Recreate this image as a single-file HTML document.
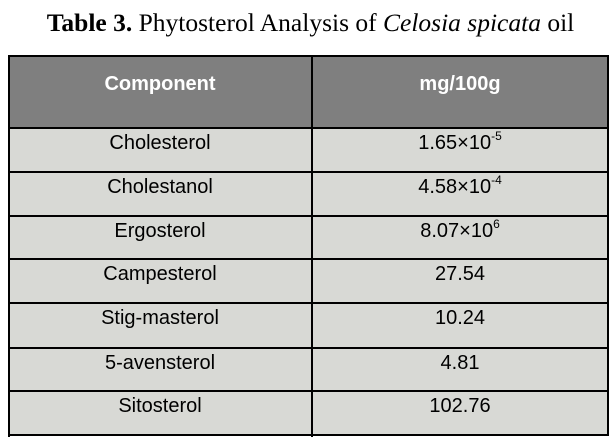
<!DOCTYPE html>
<html><head><meta charset="utf-8"><style>
html,body{margin:0;padding:0;background:#fff;}
body{width:615px;height:442px;position:relative;overflow:hidden;font-family:"Liberation Sans",sans-serif;}
.t{position:absolute;left:0;width:621px;text-align:center;font-family:"Liberation Serif",serif;font-size:25.5px;line-height:25.5px;top:9.5px;color:#000;white-space:nowrap;}
.bg{position:absolute;}
.h{position:absolute;background:#000;height:2px;left:8px;width:601px;}
.v{position:absolute;background:#000;width:2px;top:55px;height:382px;}
.c{position:absolute;font-size:20px;line-height:20px;text-align:center;color:#000;white-space:nowrap;}
.c1{left:8px;width:304px;}
.c2{left:312px;width:296px;}
.hd{color:#fff;font-weight:bold;top:74px;}
sup{font-size:12px;vertical-align:0;position:relative;top:-9px;}
</style></head><body>
<div class="t"><b>Table 3.</b> Phytosterol Analysis of <i>Celosia spicata</i> oil</div>
<div class="bg" style="left:8px;top:55px;width:601px;height:72px;background:#7f7f7f"></div>
<div class="bg" style="left:8px;top:127px;width:601px;height:308px;background:#d8d9d5"></div>
<div class="h" style="top:55px"></div>
<div class="h" style="top:127px"></div>
<div class="h" style="top:171px"></div>
<div class="h" style="top:215px"></div>
<div class="h" style="top:258px"></div>
<div class="h" style="top:302px"></div>
<div class="h" style="top:347px"></div>
<div class="h" style="top:390px"></div>
<div class="h" style="top:434px"></div>
<div class="v" style="left:8px"></div>
<div class="v" style="left:311px"></div>
<div class="v" style="left:607px;height:381px"></div>
<div class="c c1 hd">Component</div>
<div class="c c2 hd">mg/100g</div>
<div class="c c1" style="top:133px">Cholesterol</div>
<div class="c c2" style="top:133px">1.65×10<sup>-5</sup></div>
<div class="c c1" style="top:177px">Cholestanol</div>
<div class="c c2" style="top:177px">4.58×10<sup>-4</sup></div>
<div class="c c1" style="top:221px">Ergosterol</div>
<div class="c c2" style="top:221px">8.07×10<sup>6</sup></div>
<div class="c c1" style="top:264px">Campesterol</div>
<div class="c c2" style="top:264px">27.54</div>
<div class="c c1" style="top:308px">Stig-masterol</div>
<div class="c c2" style="top:308px">10.24</div>
<div class="c c1" style="top:353px">5-avensterol</div>
<div class="c c2" style="top:353px">4.81</div>
<div class="c c1" style="top:396px">Sitosterol</div>
<div class="c c2" style="top:396px">102.76</div>
</body></html>
